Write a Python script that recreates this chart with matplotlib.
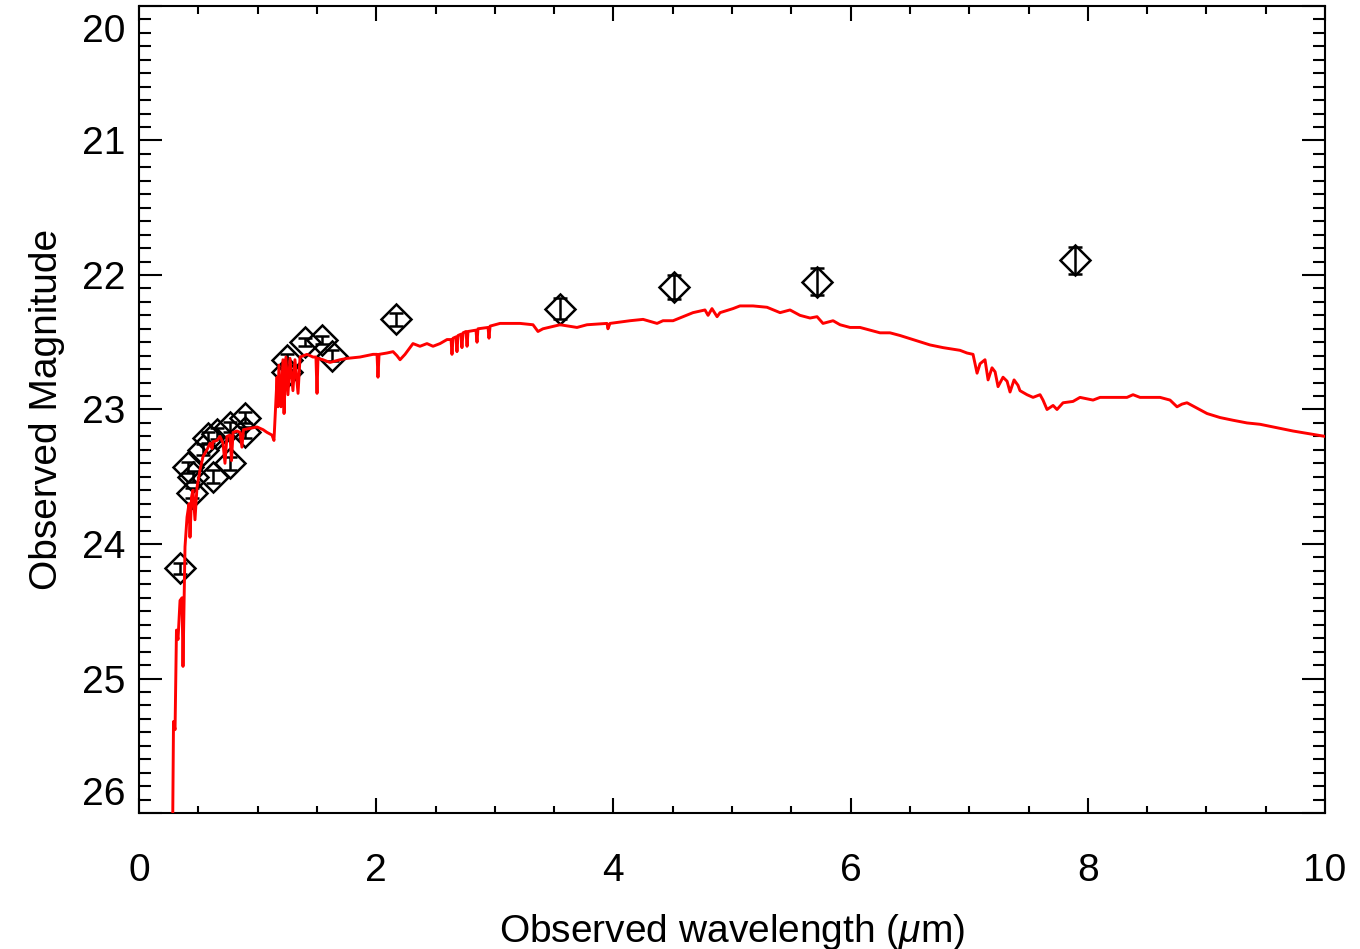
import matplotlib.pyplot as plt
import matplotlib.transforms as mtransforms
import numpy as np

plt.rcParams['font.family'] = ['Liberation Sans', 'DejaVu Sans']
plt.rcParams['mathtext.fontset'] = 'custom'
plt.rcParams['mathtext.it'] = 'Liberation Sans:italic'

# photometry: observed wavelength (um), magnitude, 1-sigma error
phot_wave = [0.346, 0.413, 0.455, 0.447, 0.54, 0.58, 0.624, 0.66,
             0.767, 0.767, 0.89, 0.89, 1.25, 1.25, 1.40, 1.54, 1.63,
             2.17, 3.55, 4.51, 5.72, 7.89]
phot_mag = [24.18, 23.43, 23.50, 23.62, 23.30, 23.21, 23.50, 23.18,
            23.13, 23.40, 23.06, 23.17, 22.63, 22.72, 22.50, 22.48, 22.60,
            22.33, 22.25, 22.09, 22.05, 21.89]
phot_err = [0.04, 0.04, 0.04, 0.04, 0.04, 0.04, 0.05, 0.04,
            0.04, 0.05, 0.04, 0.04, 0.04, 0.04, 0.03, 0.03, 0.04,
            0.05, 0.08, 0.09, 0.10, 0.10]

# best-fit template spectrum
sed_wave = [0.283, 0.291, 0.304, 0.316, 0.329, 0.346, 0.363, 0.371, 0.388, 0.405,
            0.422, 0.430, 0.443, 0.455, 0.472, 0.489, 0.514, 0.540, 0.573, 0.599,
            0.616, 0.624, 0.658, 0.683, 0.708, 0.725, 0.742, 0.767, 0.780, 0.793,
            0.826, 0.852, 0.868, 0.881, 0.936, 0.995, 1.046, 1.079, 1.121, 1.138,
            1.164, 1.172, 1.180, 1.197, 1.214, 1.223, 1.239, 1.256, 1.273, 1.298,
            1.315, 1.341, 1.358, 1.417, 1.467, 1.492, 1.501, 1.509, 1.551, 1.610,
            1.695, 1.754, 1.863, 1.973, 2.007, 2.015, 2.024, 2.091, 2.142, 2.175,
            2.201, 2.243, 2.310, 2.369, 2.428, 2.479, 2.538, 2.597, 2.631, 2.639,
            2.648, 2.673, 2.681, 2.690, 2.715, 2.723, 2.732, 2.757, 2.766, 2.774,
            2.841, 2.850, 2.858, 2.943, 2.951, 2.960, 3.044, 3.170, 3.213, 3.322,
            3.364, 3.406, 3.550, 3.693, 3.777, 3.946, 3.954, 3.971, 4.056, 4.140,
            4.250, 4.368, 4.418, 4.503, 4.587, 4.671, 4.772, 4.798, 4.831, 4.874,
            4.899, 5.008, 5.067, 5.177, 5.295, 5.405, 5.489, 5.573, 5.658, 5.717,
            5.767, 5.852, 5.911, 5.995, 6.079, 6.164, 6.248, 6.332, 6.417, 6.526,
            6.669, 6.779, 6.922, 6.981, 7.032, 7.066, 7.091, 7.133, 7.159, 7.192,
            7.218, 7.243, 7.285, 7.319, 7.344, 7.378, 7.411, 7.428, 7.487, 7.538,
            7.597, 7.622, 7.656, 7.707, 7.740, 7.791, 7.875, 7.934, 8.044, 8.103,
            8.212, 8.330, 8.381, 8.440, 8.550, 8.609, 8.693, 8.752, 8.794, 8.836,
            8.921, 9.005, 9.115, 9.224, 9.342, 9.452, 9.562, 9.730, 10.0]
sed_mag = [26.20, 25.32, 25.38, 24.64, 24.71, 24.42, 24.40, 24.91, 24.02, 23.80,
           23.70, 23.95, 23.65, 23.60, 23.82, 23.58, 23.45, 23.35, 23.30, 23.25,
           23.29, 23.24, 23.23, 23.20, 23.25, 23.40, 23.20, 23.19, 23.38, 23.17,
           23.16, 23.17, 23.28, 23.15, 23.14, 23.13, 23.15, 23.17, 23.19, 23.23,
           22.76, 22.98, 22.67, 22.98, 22.63, 23.03, 22.61, 22.89, 22.62, 22.86,
           22.63, 22.88, 22.61, 22.59, 22.61, 22.61, 22.88, 22.62, 22.63, 22.65,
           22.63, 22.62, 22.61, 22.59, 22.59, 22.76, 22.59, 22.58, 22.57, 22.60,
           22.63, 22.59, 22.51, 22.53, 22.51, 22.53, 22.51, 22.48, 22.48, 22.59,
           22.47, 22.46, 22.57, 22.45, 22.44, 22.54, 22.43, 22.42, 22.53, 22.42,
           22.41, 22.50, 22.40, 22.39, 22.47, 22.38, 22.36, 22.36, 22.36, 22.37,
           22.42, 22.40, 22.37, 22.39, 22.37, 22.36, 22.40, 22.36, 22.35, 22.34,
           22.33, 22.36, 22.34, 22.34, 22.31, 22.28, 22.26, 22.30, 22.25, 22.31,
           22.28, 22.25, 22.23, 22.23, 22.24, 22.28, 22.26, 22.30, 22.32, 22.31,
           22.36, 22.34, 22.37, 22.39, 22.39, 22.41, 22.43, 22.43, 22.45, 22.48,
           22.52, 22.54, 22.56, 22.58, 22.59, 22.73, 22.66, 22.63, 22.78, 22.69,
           22.72, 22.83, 22.76, 22.79, 22.87, 22.78, 22.82, 22.86, 22.89, 22.91,
           22.89, 22.93, 23.00, 22.97, 23.00, 22.95, 22.94, 22.91, 22.93, 22.91,
           22.91, 22.91, 22.89, 22.91, 22.91, 22.91, 22.93, 22.98, 22.96, 22.95,
           22.99, 23.03, 23.06, 23.08, 23.10, 23.11, 23.13, 23.16, 23.20]

fig = plt.figure(figsize=(13.6, 9.49), dpi=100)
ax = fig.add_axes([0.1022, 0.1433, 0.8721, 0.8504])

ax.errorbar(phot_wave, phot_mag, yerr=phot_err, fmt='D', ms=15, mfc='none',
            mec='black', mew=1.8, ecolor='black', elinewidth=1.8,
            capsize=4.8, capthick=1.8, zorder=2)
ax.plot(sed_wave, sed_mag, color='red', lw=2.1, zorder=3)

ax.set_xlim(0, 10)
ax.set_ylim(26, 20)
ax.set_xticks(np.arange(0, 11, 2))
ax.set_xticks(np.arange(0, 10.01, 0.5), minor=True)
ax.set_yticks(np.arange(20, 27, 1))
ax.set_yticks(np.arange(20, 26.01, 0.1), minor=True)

ax.tick_params(axis='both', which='both', direction='in', top=True, right=True,
               width=1.5, labelsize=28, colors='black')
ax.tick_params(axis='x', which='major', length=10.8, pad=29)
ax.tick_params(axis='x', which='minor', length=5.4)
ax.tick_params(axis='y', which='major', length=16.5, pad=10)
ax.tick_params(axis='y', which='minor', length=8.6)
for s in ax.spines.values():
    s.set_linewidth(1.5)

# keep the end labels inside the frame
ylabels = ax.get_yticklabels()
ylabels[0].set_va('top')
ylabels[0].set_transform(ylabels[0].get_transform() +
                         mtransforms.ScaledTranslation(0, -6 / 72, fig.dpi_scale_trans))
ylabels[-1].set_va('bottom')

ax.set_xlabel(r'Observed wavelength ($\mu$m)', fontsize=28, labelpad=16)
ax.set_ylabel('Observed Magnitude', fontsize=28, labelpad=12)

fig.savefig('out.png', dpi=100)
